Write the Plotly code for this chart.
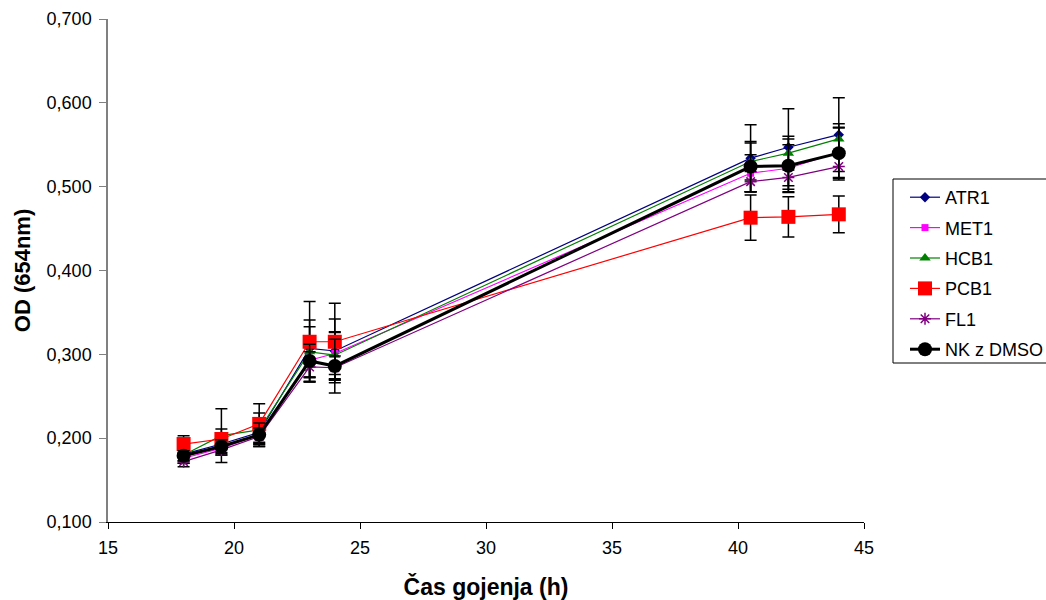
import plotly.graph_objects as go

# Sampling times (h)
hours = [18, 19.5, 21, 23, 24, 40.5, 42, 44]

# Optical density per strain and standard deviations
atr1 = [0.181, 0.193, 0.207, 0.307, 0.304, 0.534, 0.547, 0.562]
atr1_sd = [0.008, 0.010, 0.012, 0.034, 0.038, 0.040, 0.046, 0.044]
met1 = [0.176, 0.188, 0.204, 0.293, 0.301, 0.516, 0.522, 0.541]
met1_sd = [0.006, 0.008, 0.010, 0.025, 0.025, 0.022, 0.028, 0.030]
hcb1 = [0.180, 0.203, 0.210, 0.303, 0.299, 0.530, 0.540, 0.557]
hcb1_sd = [0.010, 0.032, 0.020, 0.030, 0.028, 0.022, 0.020, 0.018]
pcb1 = [0.193, 0.199, 0.217, 0.315, 0.315, 0.463, 0.464, 0.467]
pcb1_sd = [0.010, 0.012, 0.024, 0.048, 0.046, 0.027, 0.024, 0.022]
fl1 = [0.172, 0.186, 0.202, 0.285, 0.284, 0.506, 0.511, 0.524]
fl1_sd = [0.006, 0.006, 0.010, 0.018, 0.014, 0.012, 0.014, 0.016]
nk = [0.179, 0.190, 0.204, 0.292, 0.286, 0.524, 0.525, 0.540]
nk_sd = [0.006, 0.008, 0.014, 0.020, 0.032, 0.030, 0.032, 0.030]

x_ticks = [15, 20, 25, 30, 35, 40, 45]
y_ticks = [0.1, 0.2, 0.3, 0.4, 0.5, 0.6, 0.7]

series = [
    ("ATR1", atr1, atr1_sd, "#000080", 1.2, dict(symbol="diamond", size=8)),
    ("MET1", met1, met1_sd, "#FF00FF", 1.2, dict(symbol="square", size=7)),
    ("HCB1", hcb1, hcb1_sd, "#008000", 1.2, dict(symbol="triangle-up", size=10)),
    ("PCB1", pcb1, pcb1_sd, "#FF0000", 1.2, dict(symbol="square", size=14)),
    ("FL1", fl1, fl1_sd, "#800080", 1.2, dict(symbol="asterisk-open", size=10,
                                             line=dict(width=1.5, color="#800080"))),
    ("NK z DMSO", nk, nk_sd, "#000000", 3, dict(symbol="circle", size=14)),
]

fig = go.Figure()
for name, vals, sd, color, lw, mk in series:
    fig.add_trace(go.Scatter(
        x=hours, y=vals, name=name, legendgroup=name, mode="lines+markers",
        line=dict(color=color, width=lw),
        marker=dict(color=color, **mk),
        error_y=dict(type="data", array=sd, visible=True,
                     color="black", thickness=1.5, width=6),
    ))

# Legend frame (open on the right, running past the page edge)
L, R, T, B = 108, 864, 19, 522
plot_w, plot_h = R - L, B - T
fig.add_shape(
    type="rect", xref="paper", yref="paper", layer="below",
    x0=(893 - L) / plot_w, x1=(1060 - L) / plot_w,
    y0=(B - 363) / plot_h, y1=(B - 179) / plot_h,
    line=dict(color="black", width=1), fillcolor="white",
)

fig.update_layout(
    width=1046, height=600,
    paper_bgcolor="white", plot_bgcolor="rgba(0,0,0,0)",
    separators=", ",
    margin=dict(l=L, r=1046 - R, t=T, b=600 - B, autoexpand=False),
    font=dict(family="Liberation Sans, Arial, sans-serif", size=18, color="black"),
    showlegend=True,
    legend=dict(
        x=(905 - L) / plot_w, y=(B - 179) / plot_h, xanchor="left", yanchor="top",
        borderwidth=0, bgcolor="rgba(0,0,0,0)",
        font=dict(size=18), itemsizing="trace",
        tracegroupgap=4,
    ),
    xaxis=dict(
        range=[15, 45], tickvals=x_ticks, ticks="outside", ticklen=6,
        tickcolor="black", showline=True, linecolor="black", linewidth=1,
        showgrid=False, zeroline=False, ticklabelstandoff=3,
        title=dict(text="<b>Čas gojenja (h)</b>", font=dict(size=23), standoff=22),
    ),
    yaxis=dict(
        range=[0.1, 0.7], tickvals=y_ticks, tickformat=".3f", ticks="outside",
        ticklen=7, tickcolor="#808080", showline=True, linecolor="#808080",
        linewidth=1.5, showgrid=False, zeroline=False, ticklabelstandoff=4,
        title=dict(text="<b>OD (654nm)</b>", font=dict(size=22), standoff=10),
    ),
)

fig.write_html("out.html")
